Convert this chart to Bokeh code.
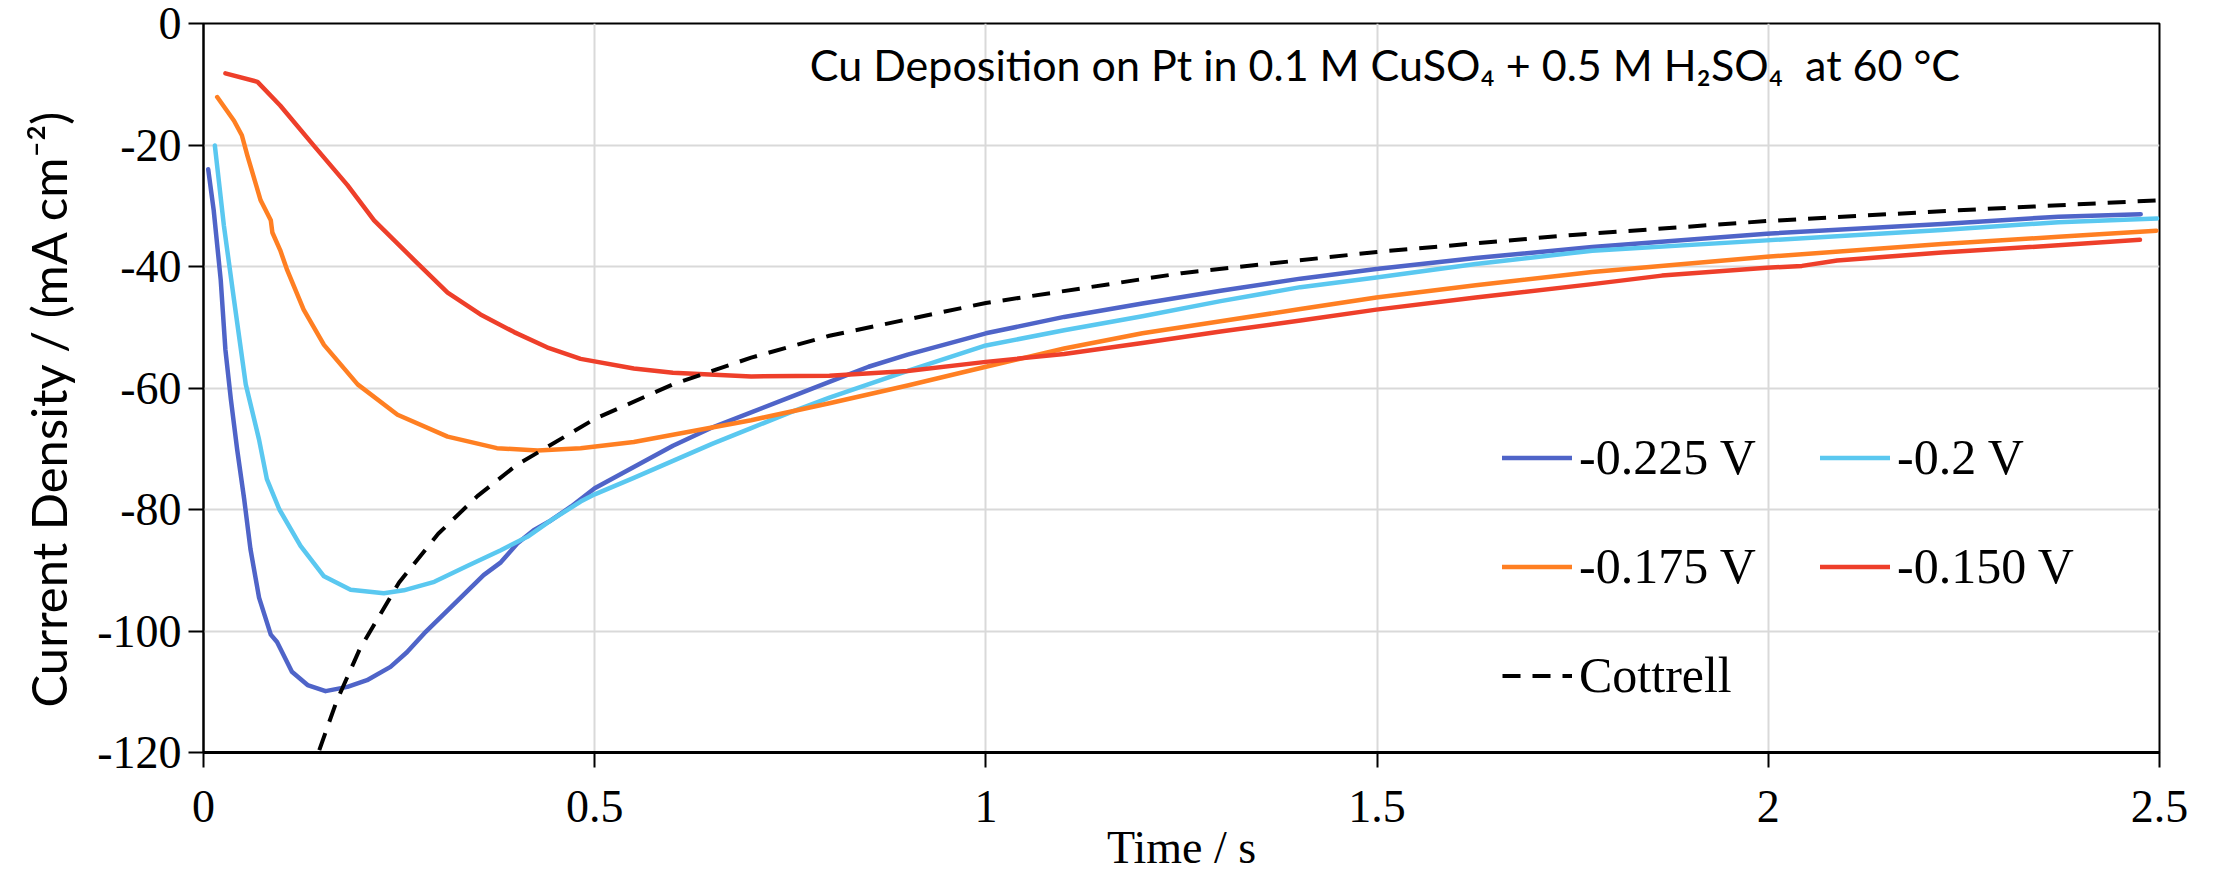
from bokeh.plotting import figure
from bokeh.models import Range1d, FixedTicker, Legend, LegendItem, Label, Title
from bokeh.embed import file_html
from bokeh.resources import INLINE

# ---------------- data ----------------
x_ticks = [0, 0.5, 1, 1.5, 2, 2.5]
x_tick_labels = ["0", "0.5", "1", "1.5", "2", "2.5"]
y_ticks = [-120, -100, -80, -60, -40, -20, 0]
y_tick_labels = ["-120", "-100", "-80", "-60", "-40", "-20", "0"]

series_names = ["-0.225 V", "-0.2 V", "-0.175 V", "-0.150 V", "Cottrell"]

t_m0225 = [0.006, 0.013, 0.022, 0.028, 0.035, 0.043, 0.052, 0.060, 0.071, 0.086, 0.094, 0.113,
           0.133, 0.156, 0.184, 0.209, 0.239, 0.260, 0.282, 0.316, 0.358, 0.380, 0.401, 0.422,
           0.444, 0.47, 0.5, 0.55, 0.6, 0.65, 0.7, 0.75, 0.8, 0.85, 0.9, 1.0, 1.1, 1.2, 1.3,
           1.402, 1.499, 1.626, 1.775, 1.998, 2.222, 2.371, 2.476]
j_m0225 = [-24.0, -30.7, -42.2, -53.7, -61.9, -70.1, -78.3, -86.5, -94.5, -100.6, -101.8, -106.7,
           -108.9, -109.9, -109.2, -108.1, -105.9, -103.5, -100.4, -96.1, -90.8, -88.7, -85.6, -83.4,
           -81.8, -79.5, -76.5, -73.0, -69.5, -66.5, -64.0, -61.5, -59.0, -56.5, -54.5, -51.0, -48.3,
           -46.1, -44.0, -42.0, -40.4, -38.6, -36.8, -34.6, -33.0, -31.8, -31.4]

t_m0200 = [0.0145, 0.026, 0.039, 0.054, 0.071, 0.081, 0.097, 0.124, 0.154, 0.188, 0.2305, 0.256,
           0.295, 0.337, 0.380, 0.414, 0.444, 0.482, 0.5, 0.55, 0.6, 0.65, 0.7, 0.75, 0.8, 0.9,
           1.0, 1.1, 1.2, 1.3, 1.402, 1.499, 1.626, 1.775, 1.998, 2.222, 2.371, 2.497]
j_m0200 = [-20.1, -33.2, -45.5, -59.4, -68.5, -75.0, -80.0, -86.0, -91.0, -93.2, -93.8, -93.3,
           -91.9, -89.3, -86.7, -84.5, -81.8, -78.7, -77.5, -74.8, -72.0, -69.2, -66.6, -64.0,
           -61.6, -57.2, -53.0, -50.5, -48.2, -45.7, -43.4, -41.8, -39.6, -37.4, -35.7, -34.0,
           -32.7, -32.1]

t_m0175 = [0.0175, 0.039, 0.049, 0.056, 0.073, 0.086, 0.088, 0.098, 0.107, 0.128, 0.154, 0.197,
           0.248, 0.312, 0.375, 0.427, 0.482, 0.55, 0.6, 0.7, 0.8, 0.9, 1.0, 1.1, 1.2, 1.3, 1.402,
           1.499, 1.626, 1.775, 1.998, 2.222, 2.371, 2.496]
j_m0175 = [-12.1, -16.0, -18.4, -21.7, -29.1, -32.4, -34.4, -37.3, -40.6, -47.1, -52.9, -59.4,
           -64.4, -68.0, -69.9, -70.3, -69.9, -68.9, -67.7, -65.3, -62.5, -59.6, -56.5, -53.5,
           -51.0, -49.0, -47.0, -45.1, -43.1, -40.9, -38.4, -36.3, -35.1, -34.1]

t_m0150 = [0.028, 0.069, 0.098, 0.141, 0.184, 0.218, 0.269, 0.312, 0.354, 0.397, 0.439, 0.482,
           0.55, 0.6, 0.7, 0.8, 0.9, 1.0, 1.1, 1.2, 1.3, 1.402, 1.499, 1.626, 1.775, 1.864, 1.998,
           2.043, 2.088, 2.222, 2.334, 2.475]
j_m0150 = [-8.2, -9.6, -13.5, -20.1, -26.6, -32.4, -38.9, -44.3, -47.9, -50.8, -53.3, -55.2,
           -56.8, -57.5, -58.1, -58.0, -57.2, -55.7, -54.4, -52.6, -50.7, -48.9, -47.1, -45.1,
           -42.9, -41.5, -40.2, -39.9, -39.0, -37.7, -36.8, -35.6]

t_cottrell = [0.148, 0.17, 0.2, 0.25, 0.3, 0.35, 0.4, 0.5, 0.6, 0.7, 0.8, 1.0, 1.25, 1.5, 1.75,
              2.0, 2.25, 2.5]
j_cottrell = [-119.6, -111.6, -102.9, -92.0, -84.0, -77.8, -72.7, -65.1, -59.4, -55.0, -51.4,
              -46.0, -41.1, -37.6, -34.8, -32.5, -30.7, -29.1]

title_text = "Cu Deposition on Pt in 0.1 M CuSO\u2084 + 0.5 M H\u2082SO\u2084 \u00a0at 60 \u00b0C"
x_label = "Time / s"
y_label = "Current Density / (mA cm\u207b\u00b2)"

# ---------------- styling ----------------
SERIF = "Liberation Serif"
SANS = "Lato"
colors = ["#4F64C8", "#5AC8F0", "#FF7F22", "#EE3F2A"]

p = figure(width=2216, height=881, x_range=Range1d(0, 2.5), y_range=Range1d(-120, 0),
           output_backend="svg", toolbar_location=None,
           min_border_left=203, min_border_right=57, min_border_top=23, min_border_bottom=129)
p.background_fill_color = "white"
p.border_fill_color = "white"
p.outline_line_color = "black"
p.outline_line_width = 2

p.xaxis.ticker = FixedTicker(ticks=x_ticks)
p.yaxis.ticker = FixedTicker(ticks=y_ticks)
p.xaxis.major_label_overrides = {t: s for t, s in zip(x_ticks, x_tick_labels)}
p.yaxis.major_label_overrides = {t: s for t, s in zip(y_ticks, y_tick_labels)}

for ax in (p.xaxis, p.yaxis):
    ax.axis_line_color = "black"
    ax.axis_line_width = 2
    ax.major_tick_line_color = "black"
    ax.major_tick_line_width = 2
    ax.major_tick_out = 15
    ax.major_tick_in = 0
    ax.minor_tick_line_color = None
    ax.major_label_text_font = SERIF
    ax.major_label_text_font_size = "46px"
    ax.major_label_text_color = "black"

p.yaxis.major_label_standoff = 7
p.xaxis.axis_line_width = 3
p.xaxis.major_label_standoff = 23
p.xaxis.axis_label = x_label
p.xaxis.axis_label_text_font = SERIF
p.xaxis.axis_label_text_font_size = "46px"
p.xaxis.axis_label_text_font_style = "normal"
p.xaxis.axis_label_text_color = "black"
p.xaxis.axis_label_standoff = -3

# vertical axis title as a side title (lets it sit a little lower, like the reference)
ytitle = Title(text=y_label, align="left", vertical_align="top", offset=45, standoff=31,
               text_font=SANS, text_font_size="49px", text_font_style="normal",
               text_color="black")
p.add_layout(ytitle, "left")

p.xgrid.grid_line_color = "#D9D9D9"
p.ygrid.grid_line_color = "#D9D9D9"
p.xgrid.grid_line_width = 2
p.ygrid.grid_line_width = 2

r1 = p.line(t_m0225, j_m0225, line_color=colors[0], line_width=4.5, line_join="round", line_cap="round")
r2 = p.line(t_m0200, j_m0200, line_color=colors[1], line_width=4.5, line_join="round", line_cap="round")
r3 = p.line(t_m0175, j_m0175, line_color=colors[2], line_width=4.5, line_join="round", line_cap="round")
r4 = p.line(t_m0150, j_m0150, line_color=colors[3], line_width=4.5, line_join="round", line_cap="round")
r5 = p.line(t_cottrell, j_cottrell, line_color="black", line_width=4, line_dash="18 12")

legend = Legend(
    items=[LegendItem(label=n, renderers=[r]) for n, r in zip(series_names, [r1, r2, r3, r4, r5])],
    orientation="horizontal", ncols=2, location=(1299, 48),
    label_text_font=SERIF, label_text_font_size="50px", label_text_color="black",
    glyph_width=70, glyph_height=43, label_height=43, label_width=190, label_standoff=7,
    spacing=51, padding=0, margin=0,
    border_line_alpha=0, background_fill_alpha=0,
)
p.add_layout(legend)

# chart title inside the plot area
p.add_layout(Label(x=1.51, y=-6.8, text=title_text, text_font=SANS, text_font_size="43px",
                   text_align="center", text_baseline="middle", text_color="black"))

open("out.html", "w").write(file_html(p, INLINE))
